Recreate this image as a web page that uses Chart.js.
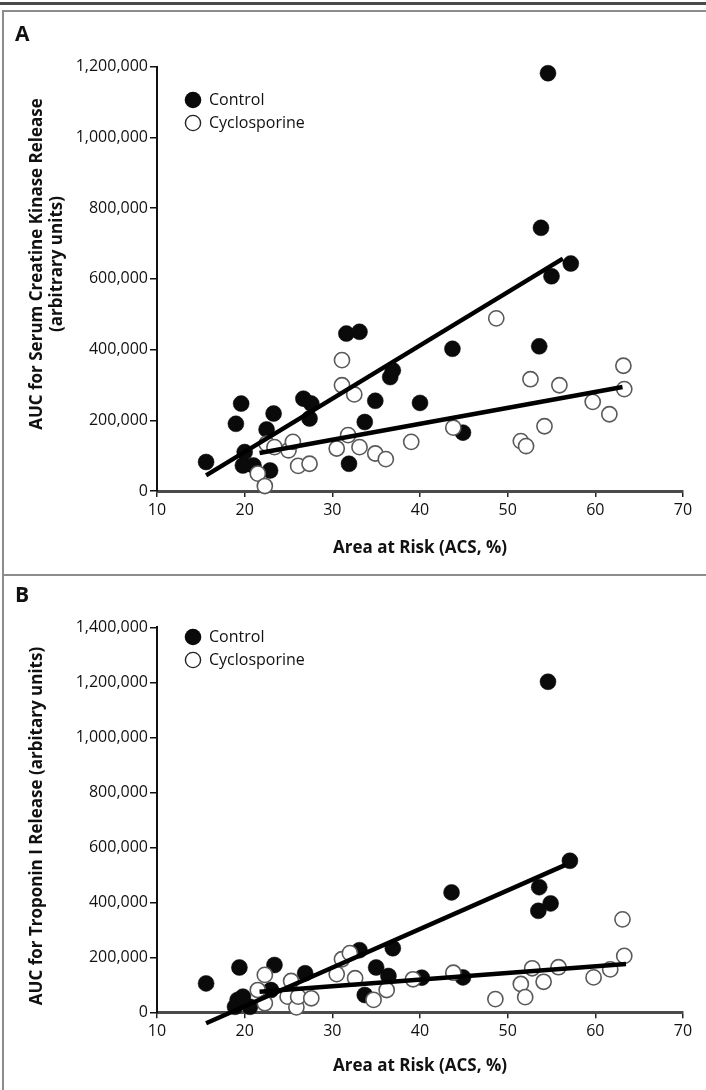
<!DOCTYPE html>
<html><head><meta charset="utf-8">
<script src="https://cdn.jsdelivr.net/npm/chart.js@4"></script>
<style>
html,body{margin:0;padding:0;background:#fff;}
#page{position:relative;width:706px;height:1090px;overflow:hidden;background:#fff;}
canvas{position:absolute;left:0;}
#cA{top:0;} #cB{top:575px;}
.rule{position:absolute;}
</style></head><body>
<div id="page">
<canvas id="cA" width="706" height="575"></canvas>
<canvas id="cB" width="706" height="515"></canvas>
<div class="rule" style="left:0;top:2px;width:706px;height:3px;background:#4a4a4a"></div>
<div class="rule" style="left:2px;top:10px;width:704px;height:2px;background:#8c8c8c"></div>
<div class="rule" style="left:2px;top:10px;width:2px;height:1080px;background:#8c8c8c"></div>
<div class="rule" style="left:2px;top:574px;width:704px;height:2px;background:#8c8c8c"></div>
</div>
<script>
// ---------- data ----------
const xTicks = [10, 20, 30, 40, 50, 60, 70];

// Panel A: creatine kinase
const ckControlX = [15.6, 19.0, 19.6, 19.8, 20.0, 21.0, 22.5, 22.9, 23.3, 26.7, 27.4, 27.6, 31.6, 31.9, 33.1, 33.7, 34.9, 36.6, 36.9, 40.0, 43.7, 44.9, 53.6, 53.8, 54.6, 55.0, 57.2];
const ckControlY = [82000, 190000, 247000, 72000, 110000, 72000, 174000, 58000, 219000, 261000, 205000, 247000, 445000, 77000, 450000, 195000, 255000, 322000, 341000, 249000, 402000, 165000, 409000, 744000, 1181000, 607000, 643000];
const ckCycloX = [21.5, 22.3, 22.5, 23.4, 25.0, 25.5, 26.1, 27.4, 30.5, 31.1, 31.1, 31.8, 32.5, 33.1, 34.9, 36.1, 39.0, 43.8, 48.7, 51.5, 52.1, 52.6, 54.2, 55.9, 59.7, 61.6, 63.2, 63.3];
const ckCycloY = [49000, 14000, 134000, 124000, 115000, 139000, 71000, 77000, 120000, 370000, 299000, 158000, 273000, 124000, 106000, 90000, 139000, 179000, 488000, 141000, 127000, 316000, 183000, 299000, 252000, 217000, 354000, 288000];
const ckControlFitX = [15.6, 56.3];
const ckControlFitY = [44000, 657000];
const ckCycloFitX = [21.7, 63.1];
const ckCycloFitY = [107500, 294000];
const ckYTicks = [0, 200000, 400000, 600000, 800000, 1000000, 1200000];

// Panel B: troponin I
const tnControlX = [15.6, 18.9, 19.2, 19.4, 19.8, 20.6, 23.0, 23.4, 26.9, 33.1, 33.7, 35.0, 36.4, 36.9, 40.2, 43.6, 44.9, 53.5, 53.6, 54.6, 54.9, 57.1];
const tnControlY = [105000, 20000, 45000, 163000, 57000, 20000, 81000, 172000, 142000, 226000, 63000, 163000, 132000, 233000, 126000, 436000, 127000, 369000, 455000, 1202000, 396000, 551000];
const tnCycloX = [21.5, 22.3, 22.3, 24.9, 25.3, 25.9, 26.1, 27.6, 30.5, 31.1, 32.0, 32.6, 34.7, 36.2, 39.2, 43.8, 48.6, 51.5, 52.0, 52.8, 54.1, 55.8, 59.8, 61.7, 63.1, 63.3];
const tnCycloY = [81000, 136000, 33000, 57000, 114000, 18000, 57000, 51000, 139000, 193000, 215000, 124000, 45000, 81000, 120000, 144000, 48000, 103000, 55000, 160000, 111000, 164000, 127000, 156000, 338000, 205000];
const tnControlFitX = [15.6, 56.6];
const tnControlFitY = [-40000, 536000];
const tnCycloFitX = [21.7, 63.5];
const tnCycloFitY = [75000, 176000];
const tnYTicks = [0, 200000, 400000, 600000, 800000, 1000000, 1200000, 1400000];

const seriesNames = ['Control', 'Cyclosporine'];
const xTitle = 'Area at Risk (ACS, %)';

// ---------- helpers ----------
const FONT = '"Open Sans", "Noto Sans", sans-serif';
const pts = (xs, ys) => xs.map((x, i) => ({x: x, y: ys[i]}));

function makeChart(canvasId, cfg) {
  const ds = [
    {label: 'fitC', data: pts(cfg.fitCX, cfg.fitCY), showLine: true, borderColor: '#000', borderWidth: 4.5,
     pointRadius: 0, order: 0, clip: false, borderCapStyle: 'butt'},
    {label: 'fitS', data: pts(cfg.fitSX, cfg.fitSY), showLine: true, borderColor: '#000', borderWidth: 4.5,
     pointRadius: 0, order: 0, clip: false, borderCapStyle: 'butt'},
    {label: seriesNames[1], data: pts(cfg.sX, cfg.sY), pointRadius: 7.6, pointBackgroundColor: '#fff',
     pointBorderColor: '#595959', pointBorderWidth: 1.6, showLine: false, order: 1, clip: false},
    {label: seriesNames[0], data: pts(cfg.cX, cfg.cY), pointRadius: 8, pointBackgroundColor: '#0a0a0a',
     pointBorderColor: '#0a0a0a', pointBorderWidth: 0.5, showLine: false, order: 2, clip: false}
  ];
  const annot = {
    id: 'annot',
    afterDraw(chart) {
      const c = chart.ctx, a = chart.chartArea;
      c.save();
      c.fillStyle = '#111';
      // panel letter
      c.font = 'bold 21px ' + FONT;
      c.textAlign = 'left'; c.textBaseline = 'middle';
      c.fillText(cfg.letter, 15, cfg.letterY);
      // legend
      c.font = '16px ' + FONT;
      c.beginPath(); c.arc(193, cfg.legY, 8.3, 0, Math.PI * 2); c.fillStyle = '#0a0a0a'; c.fill();
      c.beginPath(); c.arc(193, cfg.legY + 23, 7.6, 0, Math.PI * 2); c.fillStyle = '#fff'; c.fill();
      c.lineWidth = 1.4; c.strokeStyle = '#222'; c.stroke();
      c.fillStyle = '#111';
      c.fillText(seriesNames[0], 209, cfg.legY);
      c.fillText(seriesNames[1], 209, cfg.legY + 23);
      // x title
      c.font = 'bold 17px ' + FONT;
      c.textAlign = 'center';
      c.fillText(xTitle, (a.left + a.right) / 2, cfg.xTitleY);
      // y title
      c.translate(0, cfg.yTitleY);
      c.rotate(-Math.PI / 2);
      cfg.yTitle.forEach((t, i) => c.fillText(t, 0, cfg.yTitleX + i * 20));
      c.restore();
    }
  };
  return new Chart(document.getElementById(canvasId), {
    type: 'scatter',
    data: {datasets: ds},
    plugins: [annot],
    options: {
      responsive: false, animation: false, devicePixelRatio: 1,
      layout: {padding: {left: 0, right: 23, top: cfg.top, bottom: 0}},
      plugins: {legend: {display: false}, tooltip: {enabled: false}},
      scales: {
        x: {
          type: 'linear', min: 10, max: 70,
          afterFit: s => { s.height = cfg.xH; },
          afterBuildTicks: s => { s.ticks = xTicks.map(v => ({value: v})); },
          grid: {drawOnChartArea: false, drawTicks: true, tickLength: 6, color: '#222', lineWidth: 1.5},
          border: {display: true, color: '#4a4a4a', width: 3},
          ticks: {padding: 4, color: '#111', font: {family: FONT, size: 16}, maxRotation: 0}
        },
        y: {
          type: 'linear', min: 0, max: cfg.yTicks[cfg.yTicks.length - 1],
          afterFit: s => { s.width = 157; },
          afterBuildTicks: s => { s.ticks = cfg.yTicks.map(v => ({value: v})); },
          grid: {drawOnChartArea: false, drawTicks: true, tickLength: 7, color: '#111', lineWidth: 1.5},
          border: {display: true, color: '#111', width: 2},
          ticks: {padding: 2, color: '#111', font: {family: FONT, size: 16},
                  callback: v => v.toLocaleString('en-US')}
        }
      }
    }
  });
}

makeChart('cA', {
  cX: ckControlX, cY: ckControlY, sX: ckCycloX, sY: ckCycloY,
  fitCX: ckControlFitX, fitCY: ckControlFitY, fitSX: ckCycloFitX, fitSY: ckCycloFitY,
  yTicks: ckYTicks, top: 66.5, xH: 84,
  letter: 'A', letterY: 35, legY: 100, xTitleY: 548, yTitleY: 264, yTitleX: 37,
  yTitle: ['AUC for Serum Creatine Kinase Release', '(arbitrary units)']
});
makeChart('cB', {
  cX: tnControlX, cY: tnControlY, sX: tnCycloX, sY: tnCycloY,
  fitCX: tnControlFitX, fitCY: tnControlFitY, fitSX: tnCycloFitX, fitSY: tnCycloFitY,
  yTicks: tnYTicks, top: 52.3, xH: 77.7,
  letter: 'B', letterY: 21, legY: 62, xTitleY: 491, yTitleY: 251, yTitleX: 37,
  yTitle: ['AUC for Troponin I Release (arbitary units)']
});
</script>
</body></html>
